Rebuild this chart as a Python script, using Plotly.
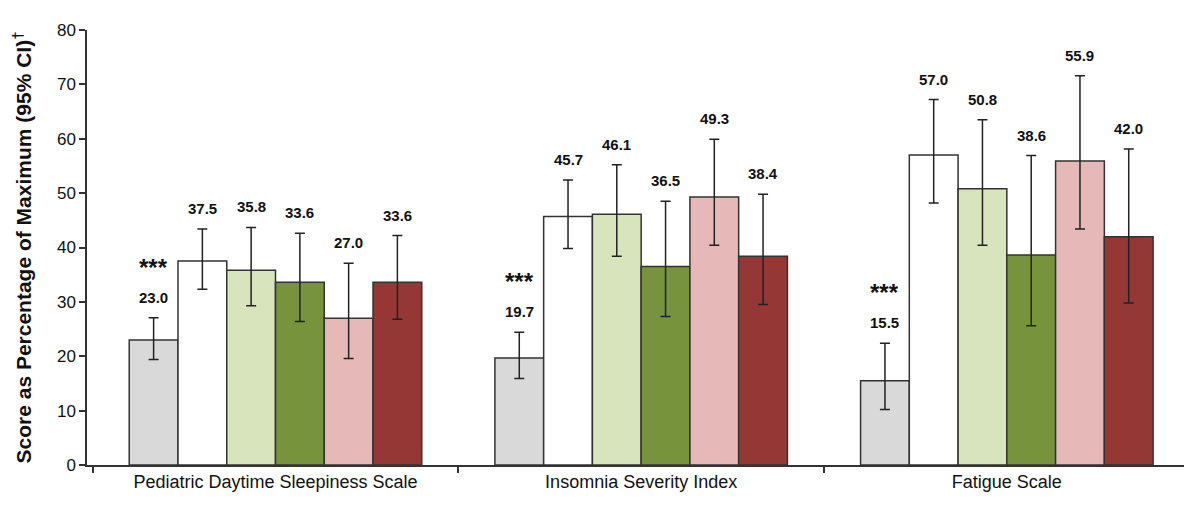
import plotly.graph_objects as go

categories = ["Pediatric Daytime Sleepiness Scale", "Insomnia Severity Index", "Fatigue Scale"]
series_names = ["S1", "S2", "S3", "S4", "S5", "S6"]
values = [
    [23.0, 19.7, 15.5],
    [37.5, 45.7, 57.0],
    [35.8, 46.1, 50.8],
    [33.6, 36.5, 38.6],
    [27.0, 49.3, 55.9],
    [33.6, 38.4, 42.0],
]
ci_high = [
    [27.1, 24.4, 22.4],
    [43.4, 52.4, 67.2],
    [43.7, 55.2, 63.5],
    [42.6, 48.5, 56.9],
    [37.1, 59.9, 71.6],
    [42.2, 49.8, 58.1],
]
ci_low = [
    [19.4, 15.9, 10.2],
    [32.3, 39.8, 48.2],
    [29.3, 38.4, 40.4],
    [26.4, 27.3, 25.6],
    [19.6, 40.4, 43.4],
    [26.8, 29.5, 29.8],
]
colors = ["#d9d9d9", "#ffffff", "#d8e4bc", "#77933c", "#e6b9b8", "#953735"]
significance = ["***", "", "", "", "", ""]

FONT = "Liberation Sans, Arial, sans-serif"
NARROW = "Liberation Sans Narrow, Arial Narrow, Liberation Sans, Arial, sans-serif"
bargap = 0.2
n = len(series_names)
w = (1 - bargap) / n

fig = go.Figure()
for j, name in enumerate(series_names):
    fig.add_trace(go.Bar(
        x=categories, y=values[j], name=name,
        marker=dict(color=colors[j], line=dict(color="#333333", width=1.5)),
        error_y=dict(type="data", symmetric=False,
                     array=[h - v for h, v in zip(ci_high[j], values[j])],
                     arrayminus=[v - l for v, l in zip(values[j], ci_low[j])],
                     color="#222222", thickness=1.5, width=5),
        showlegend=False,
    ))

annotations = []
for j in range(n):
    for i in range(len(categories)):
        xpos = i + (j - (n - 1) / 2) * w
        annotations.append(dict(
            x=xpos, y=ci_high[j][i], xref="x", yref="y",
            text=f"{values[j][i]:.1f}", showarrow=False,
            yanchor="bottom", yshift=10,
            font=dict(family=NARROW, size=15, color="#111111", weight="bold"),
        ))
        if significance[j]:
            annotations.append(dict(
                x=xpos, y=ci_high[j][i], xref="x", yref="y",
                text=significance[j], showarrow=False,
                yanchor="bottom", yshift=35,
                font=dict(family=FONT, size=24, color="#111111", weight="bold"),
            ))

annotations.append(dict(
    x=0, y=0.5, xref="paper", yref="paper", xanchor="center", yanchor="middle",
    xshift=-65, yshift=0, textangle=-90, showarrow=False,
    text="Score as Percentage of Maximum (95% CI)<sup>†</sup>",
    font=dict(family=FONT, size=21, color="#111111", weight="bold"),
))

fig.update_layout(
    width=1184, height=506,
    margin=dict(l=87, r=0, t=30, b=41),
    paper_bgcolor="white", plot_bgcolor="white",
    barmode="group", bargap=bargap, bargroupgap=0,
    font=dict(family=FONT, color="#111111"),
    annotations=annotations,
    xaxis=dict(
        type="category", range=[-0.5155, 2.4845],
        showline=True, linecolor="#333333", linewidth=1.5,
        ticks="outside", tickson="boundaries", ticklen=6, tickcolor="#333333", tickwidth=1.5,
        tickfont=dict(family=FONT, size=18, color="#111111"),
        showgrid=False, zeroline=False,
    ),
    yaxis=dict(
        range=[0, 80], dtick=10,
        showline=True, linecolor="#333333", linewidth=1.5,
        ticks="outside", ticklen=6, tickcolor="#333333", tickwidth=1.5,
        tickfont=dict(family=FONT, size=17, color="#111111"),
        showgrid=False, zeroline=False,
    ),
)

fig.write_html("out.html", config={"displayModeBar": False},
               post_script="document.body.style.margin='0';")
